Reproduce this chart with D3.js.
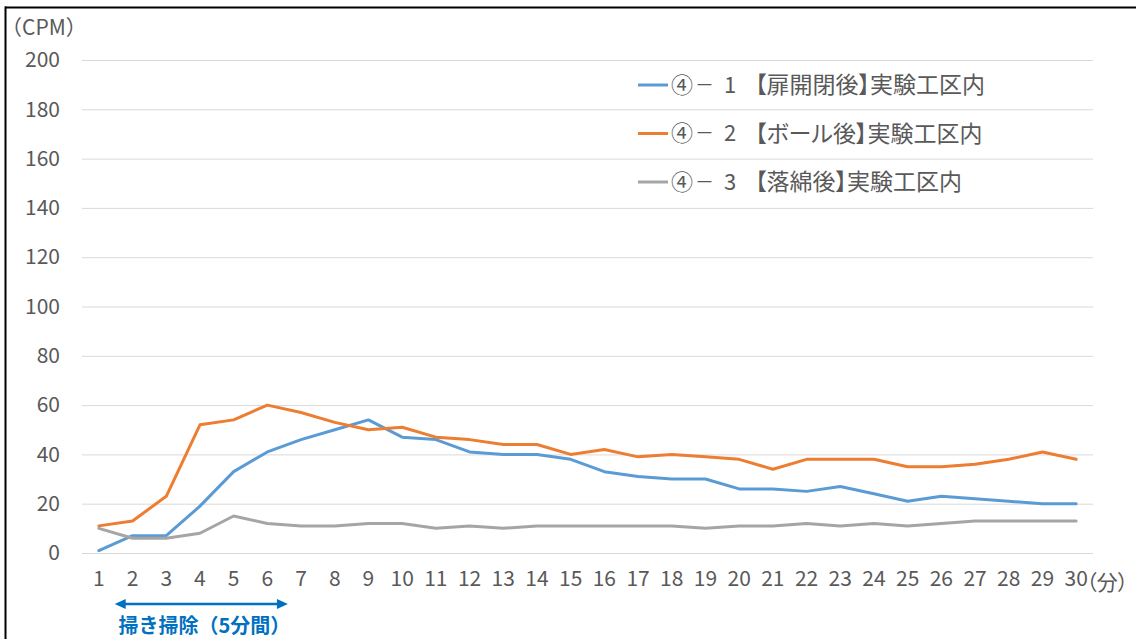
<!DOCTYPE html>
<html>
<head>
<meta charset="utf-8">
<script src="https://cdn.jsdelivr.net/npm/d3@7"></script>
<style>
  html, body { margin: 0; padding: 0; background: #fff; }
  svg { display: block; }
  text { font-family: "Noto Sans CJK JP", "Noto Sans", sans-serif; }
  .palt { font-feature-settings: "palt"; }
</style>
</head>
<body>
<svg id="chart" width="1136" height="639"></svg>
<script>
// minutes after the start of measurement
const minutes = d3.range(1, 31);

// ④-1 after opening/closing the door
const seriesDoor = [1, 7, 7, 19, 33, 41, 46, 50, 54, 47, 46, 41, 40, 40, 38, 33, 31, 30, 30, 26,
                    26, 25, 27, 24, 21, 23, 22, 21, 20, 20];
// ④-2 after the ball
const seriesBall = [11, 13, 23, 52, 54, 60, 57, 53, 50, 51, 47, 46, 44, 44, 40, 42, 39, 40, 39, 38,
                    34, 38, 38, 38, 35, 35, 36, 38, 41, 38];
// ④-3 after cotton drop
const seriesCotton = [10, 6, 6, 8, 15, 12, 11, 11, 12, 12, 10, 11, 10, 11, 11, 11, 11, 11, 10, 11,
                      11, 12, 11, 12, 11, 12, 13, 13, 13, 13];

// legend names: experiment number, sub-number and condition
const seriesNumbers = ["1", "2", "3"];
const seriesConditions = ["【扉開閉後】実験工区内", "【ボール後】実験工区内", "【落綿後】実験工区内"];
const seriesColors = ["#5B9BD5", "#ED7D31", "#A5A5A5"];
const yTicks = [0, 20, 40, 60, 80, 100, 120, 140, 160, 180, 200];

// sweeping period, in minutes along the x axis
const sweepSpan = [1.47, 6.61];
const sweepLabel = "掃き掃除（5分間）";

const svg = d3.select("#chart");
const plot = { left: 82, right: 1093, top: 60, bottom: 553 };

const x = d3.scaleBand().domain(minutes).range([plot.left, plot.right]);
const xc = d => x(d) + x.bandwidth() / 2;
const xLin = d3.scaleLinear().domain([1, 30]).range([xc(1), xc(30)]);
const y = d3.scaleLinear().domain([0, 200]).range([plot.bottom, plot.top]);

// outer frame
svg.append("line").attr("x1", 5).attr("x2", 1136).attr("y1", 7.5).attr("y2", 7.5)
  .attr("stroke", "#000").attr("stroke-width", 2);
svg.append("line").attr("x1", 5.5).attr("x2", 5.5).attr("y1", 6.5).attr("y2", 639)
  .attr("stroke", "#000").attr("stroke-width", 2);

// y axis with gridlines
const yAxis = svg.append("g")
  .attr("transform", `translate(${plot.left},0)`)
  .call(d3.axisLeft(y).tickValues(yTicks).tickSize(-(plot.right - plot.left)).tickPadding(22));
yAxis.select(".domain").remove();
yAxis.selectAll(".tick line").attr("stroke", "#D9D9D9").attr("stroke-width", 1);
yAxis.selectAll(".tick text").attr("fill", "#595959").attr("font-size", 21)
  .attr("font-family", "'Noto Sans CJK JP', sans-serif");

// x axis labels
const xAxis = svg.append("g")
  .attr("transform", `translate(0,${plot.bottom})`)
  .call(d3.axisBottom(x).tickSize(0).tickPadding(18));
xAxis.select(".domain").remove();
xAxis.selectAll(".tick text").attr("fill", "#595959").attr("font-size", 21)
  .attr("font-family", "'Noto Sans CJK JP', sans-serif");

// axis units
svg.append("text").attr("x", 1).attr("y", 28).attr("dy", "0.35em")
  .attr("fill", "#595959").attr("font-size", 21).text("（CPM）");
svg.append("text").attr("class", "palt").attr("x", xc(30) + 10).attr("y", 583).attr("dy", "0.35em")
  .attr("fill", "#595959").attr("font-size", 21).text("（分）");

// lines
const line = d3.line().x((d, i) => xc(minutes[i])).y(d => y(d));
[seriesDoor, seriesBall, seriesCotton].forEach((vals, k) => {
  svg.append("path").datum(vals)
    .attr("fill", "none")
    .attr("stroke", seriesColors[k])
    .attr("stroke-width", 3)
    .attr("stroke-linejoin", "round")
    .attr("stroke-linecap", "round")
    .attr("d", line);
});

// legend
const legend = svg.append("g").attr("fill", "#595959").attr("font-size", 22);
seriesConditions.forEach((cond, k) => {
  const ly = 85 + k * 48.5;
  const item = legend.append("g");
  item.append("line").attr("x1", 638).attr("x2", 668).attr("y1", ly).attr("y2", ly)
    .attr("stroke", seriesColors[k]).attr("stroke-width", 3);
  item.append("text").attr("x", 682).attr("y", ly).attr("dy", "0.35em")
    .attr("text-anchor", "middle").text("④");
  item.append("text").attr("x", 704.5).attr("y", ly).attr("dy", "0.35em")
    .attr("text-anchor", "middle").attr("font-size", 19).text("－");
  item.append("text").attr("x", 730).attr("y", ly).attr("dy", "0.35em")
    .attr("text-anchor", "middle").text(seriesNumbers[k]);
  item.append("text").attr("class", "palt").attr("x", 755).attr("y", ly).attr("dy", "0.35em")
    .attr("font-size", 23).text(cond);
});

// sweeping period annotation
const ax0 = xLin(sweepSpan[0]), ax1 = xLin(sweepSpan[1]), ay = 604;
const blue = "#0070C0";
svg.append("line").attr("x1", ax0 + 6).attr("x2", ax1 - 6).attr("y1", ay).attr("y2", ay)
  .attr("stroke", blue).attr("stroke-width", 2.5);
svg.append("path")
  .attr("d", `M${ax0},${ay} L${ax0 + 11},${ay - 5} L${ax0 + 11},${ay + 5} Z`)
  .attr("fill", blue);
svg.append("path")
  .attr("d", `M${ax1},${ay} L${ax1 - 11},${ay - 5} L${ax1 - 11},${ay + 5} Z`)
  .attr("fill", blue);
svg.append("text").attr("x", (ax0 + ax1) / 2 + 3).attr("y", 633)
  .attr("text-anchor", "middle").attr("fill", blue).attr("font-size", 20).attr("font-weight", "bold")
  .text(sweepLabel);
</script>
</body>
</html>
